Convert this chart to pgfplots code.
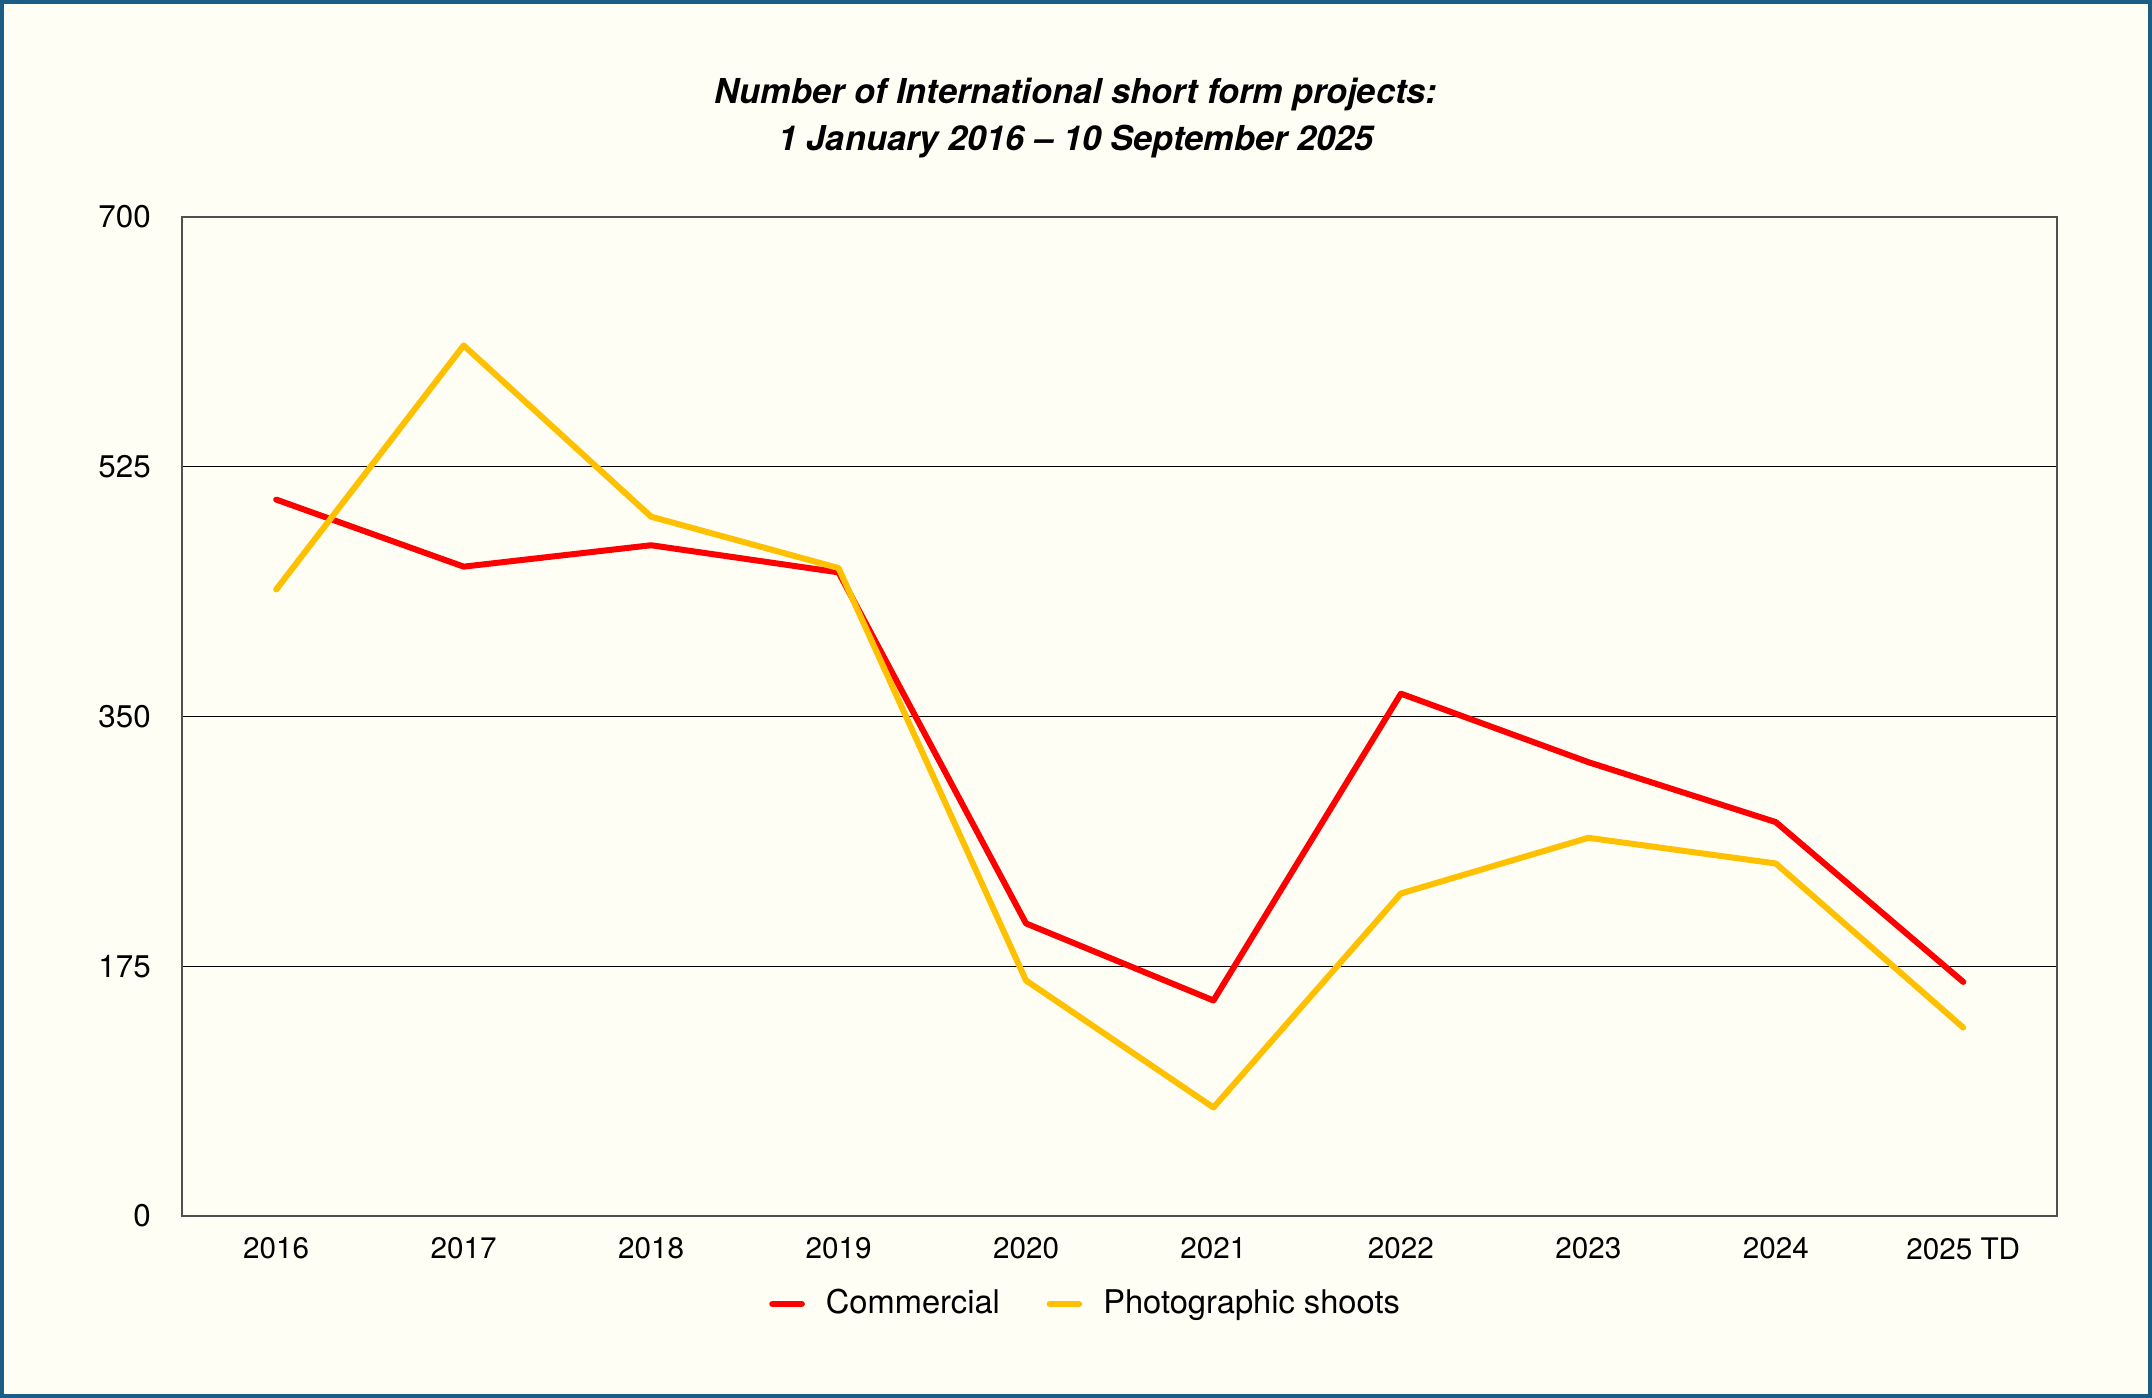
\documentclass[border=0pt]{standalone}
\usepackage{fontspec}
\setmainfont{TeX Gyre Heros}
\usepackage{pgfplots}
\pgfplotsset{compat=1.18}
\definecolor{bgc}{HTML}{FEFEF5}
\definecolor{framec}{HTML}{1B5E85}
\definecolor{comred}{HTML}{FF0000}
\definecolor{photoy}{HTML}{FFC000}
\definecolor{axgray}{HTML}{505050}
\begin{document}
\begin{tikzpicture}[x=1pt,y=1pt]
\fill[bgc] (0,0) rectangle (645.6,419.4);
\draw[framec, line width=1.2pt] (0.6,0.6) rectangle (645.0,418.8);
\node[align=center, font=\fontsize{10.3}{14.2}\selectfont\bfseries\itshape] at (322.8,384.0)
  {Number of International short form projects:\\1 January 2016 -- 10 September 2025};
\begin{axis}[
  at={(54.75pt,54.6pt)}, anchor=south west,
  scale only axis, width=562.35pt, height=299.7pt,
  xmin=-0.5, xmax=9.5, ymin=0, ymax=700,
  xtick={0,...,9},
  xticklabels={2016,2017,2018,2019,2020,2021,2022,2023,2024,2025 TD},
  ytick={0,175,350,525,700},
  major tick length=0pt,
  axis line style={axgray, line width=0.6pt},
  ymajorgrids, grid style={black, line width=0.4pt},
  xticklabel style={font=\fontsize{8.9}{10}\selectfont, yshift=-3pt},
  yticklabel style={font=\fontsize{9.4}{10}\selectfont, xshift=-6pt},
  /pgf/number format/assume math mode=true,
  legend columns=2,
  legend style={at={(0.483,-0.088)}, anchor=center, draw=none, fill=none,
    font=\fontsize{9.8}{11}\selectfont,
    /tikz/every even column/.append style={column sep=12pt}},
  legend image code/.code={\draw[#1, line width=2pt] (0pt,0pt) -- (8.7pt,0pt); \path[draw=none, fill=none] (0pt,0pt) -- (14pt,0pt);},
]
\addplot[comred, line width=1.8pt, line cap=round, line join=round] coordinates {
  (0,502) (1,455) (2,470) (3,451) (4,205) (5,151) (6,366) (7,318) (8,276) (9,164)};
\addlegendentry{Commercial}
\addplot[photoy, line width=1.8pt, line cap=round, line join=round] coordinates {
  (0,439) (1,610) (2,490) (3,454) (4,165) (5,76) (6,226) (7,265) (8,247) (9,132)};
\addlegendentry{Photographic shoots}
\end{axis}
\end{tikzpicture}
\end{document}
